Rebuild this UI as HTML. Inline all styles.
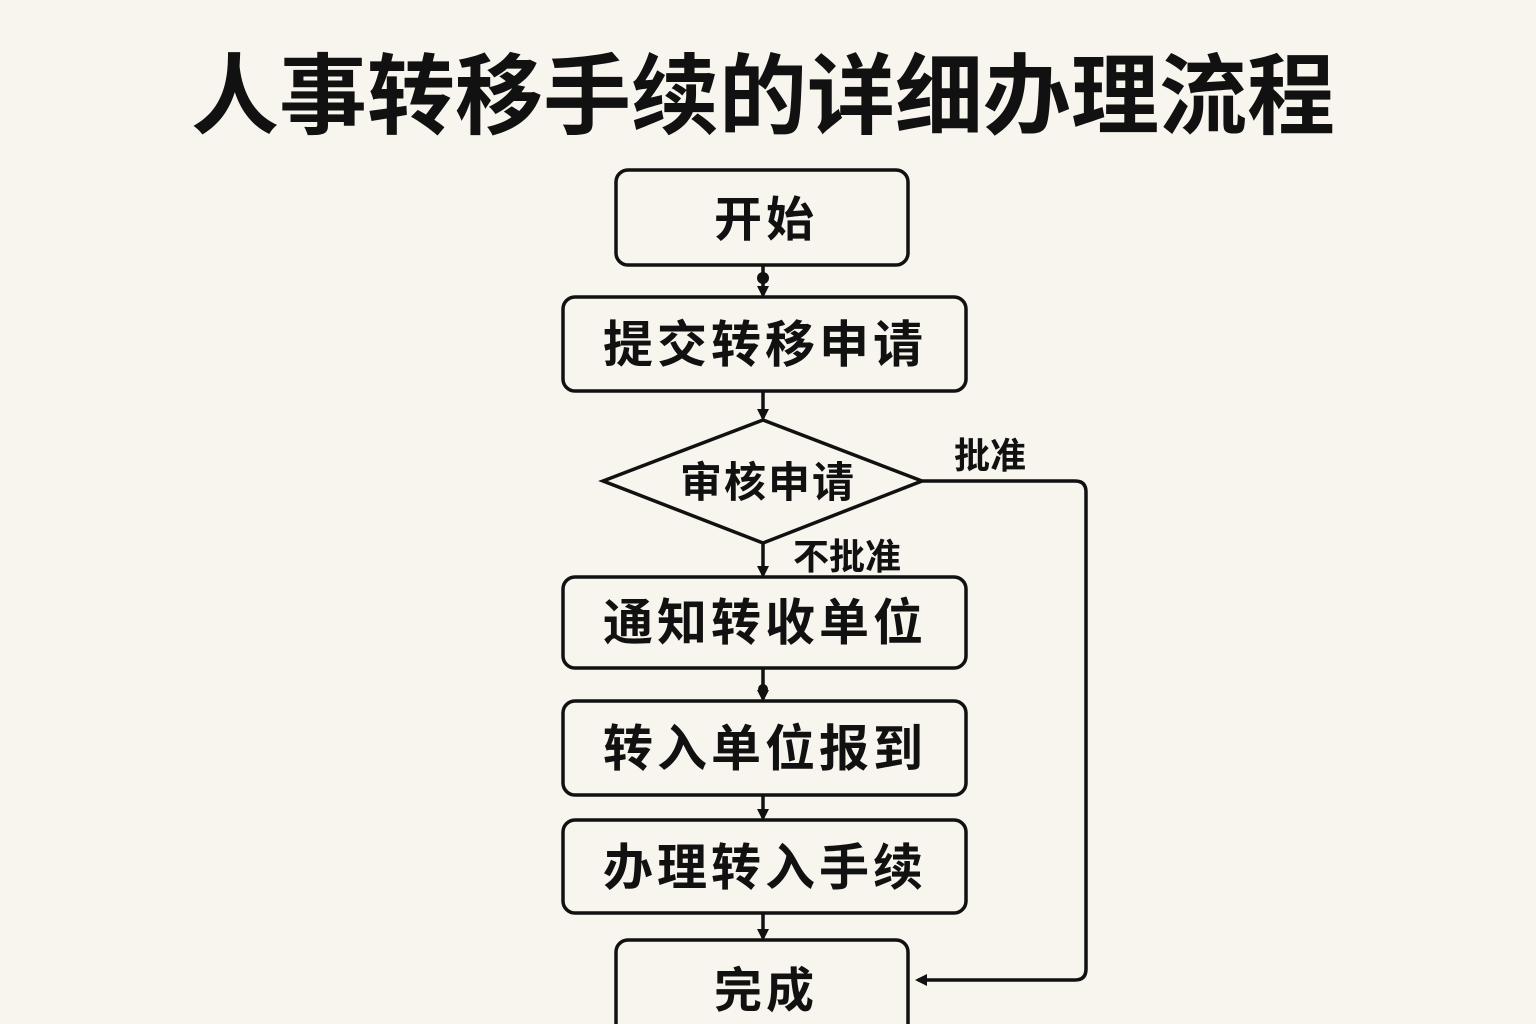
<!DOCTYPE html>
<html><head><meta charset="utf-8"><style>
html,body{margin:0;padding:0;background:#f8f5ef;}
svg{display:block;}
text{font-family:"Liberation Sans","Noto Sans CJK SC",sans-serif;fill:#111;}
</style></head><body>
<svg width="1536" height="1024" viewBox="0 0 1536 1024" xmlns="http://www.w3.org/2000/svg">
<defs>
<marker id="a" markerWidth="12" markerHeight="12" refX="9" refY="6" orient="auto" markerUnits="userSpaceOnUse">
<path d="M0,0 L12,6 L0,12 z" fill="#111"/></marker>
</defs>
<rect width="1536" height="1024" fill="#f8f5ef"/>
<text x="763" y="127" font-size="88" font-weight="bold" text-anchor="middle">人事转移手续的详细办理流程</text>
<g fill="none" stroke="#111" stroke-width="3.5">
<rect x="616" y="170" width="292" height="95" rx="12"/>
<rect x="563" y="297" width="403" height="94" rx="12"/>
<polygon points="603,481 763,420 922,481 763,543"/>
<rect x="563" y="577" width="403" height="91" rx="12"/>
<rect x="563" y="701" width="403" height="94" rx="12"/>
<rect x="563" y="820" width="403" height="93" rx="12"/>
<rect x="616" y="940" width="292" height="95" rx="12"/>
<line x1="763" y1="265" x2="763" y2="295" marker-end="url(#a)"/>
<line x1="763" y1="391" x2="763" y2="418" marker-end="url(#a)"/>
<line x1="763" y1="543" x2="763" y2="575" marker-end="url(#a)"/>
<line x1="763" y1="668" x2="763" y2="699" marker-end="url(#a)"/>
<line x1="763" y1="795" x2="763" y2="818" marker-end="url(#a)"/>
<line x1="763" y1="913" x2="763" y2="938" marker-end="url(#a)"/>
<path d="M922,481 H1075 Q1086,481 1086,492 V969 Q1086,980 1075,980 H918" marker-end="url(#a)"/>
</g>
<circle cx="763" cy="278" r="6" fill="#111"/>
<circle cx="763" cy="689" r="5" fill="#111"/>
<g font-size="50" font-weight="bold" text-anchor="middle" letter-spacing="4">
<text x="765" y="362">提交转移申请</text>
<text x="765" y="640">通知转收单位</text>
<text x="765" y="766">转入单位报到</text>
<text x="765" y="885">办理转入手续</text>
</g>
<g font-size="48" font-weight="bold" text-anchor="middle" letter-spacing="4">
<text x="766" y="236">开始</text>
<text x="766" y="1007">完成</text>
</g>
<text x="768" y="497" font-size="42" font-weight="bold" text-anchor="middle" letter-spacing="2">审核申请</text>
<text x="990" y="468" font-size="36" font-weight="bold" text-anchor="middle">批准</text>
<text x="847" y="569" font-size="36" font-weight="bold" text-anchor="middle">不批准</text>
</svg>
</body></html>
